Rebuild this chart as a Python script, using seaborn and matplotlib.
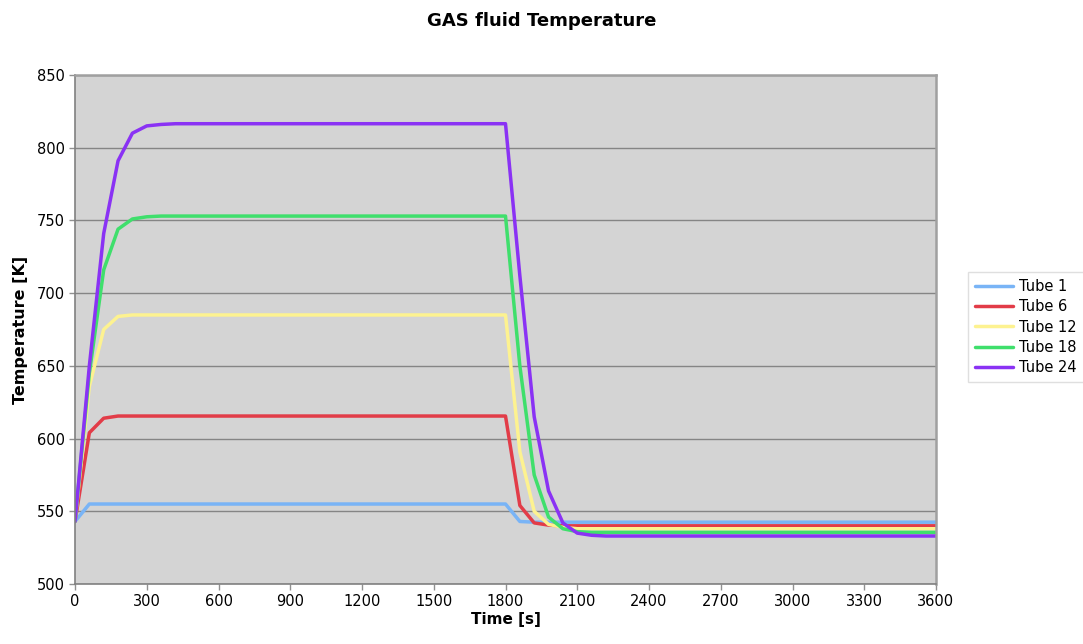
import pandas as pd
import matplotlib
matplotlib.use('Agg')
import matplotlib.pyplot as plt
import seaborn as sns

# breakpoints of each curve (straight segments in between)
time_s = [0, 60, 120, 180, 240, 300, 360, 420, 1800, 1860, 1920, 1980, 2040, 2100, 2160, 2220, 3600]
tube_1 = [543, 555, 555, 555, 555, 555, 555, 555, 555, 543, 542.5, 542.5, 542.5, 542.5, 542.5, 542.5, 542.5]
tube_6 = [543, 604, 614, 615.5, 615.5, 615.5, 615.5, 615.5, 615.5, 554, 542, 540.5, 540, 540, 540, 540, 540]
tube_12 = [543, 636, 675, 684, 685, 685, 685, 685, 685, 591, 550, 541, 539, 538, 538, 538, 538]
tube_18 = [543, 645, 716, 744, 751, 752.5, 753, 753, 753, 650, 575, 546, 538, 536, 535.5, 535.5, 535.5]
tube_24 = [543, 650, 741, 791, 810, 815, 816, 816.5, 816.5, 712, 615, 564, 542, 535, 533.5, 533, 533]

labels = ['Tube 1', 'Tube 6', 'Tube 12', 'Tube 18', 'Tube 24']
colors = ['#79b4f6', '#e23c48', '#fdf290', '#3fdf6c', '#8a32f4']
x_ticks = list(range(0, 3601, 300))
y_ticks = list(range(500, 851, 50))

frames = []
for name, vals in zip(labels, [tube_1, tube_6, tube_12, tube_18, tube_24]):
    frames.append(pd.DataFrame({'time': time_s, 'temp': vals, 'tube': name}))
df = pd.concat(frames, ignore_index=True)

sns.set_style('white')
plt.rcParams['font.family'] = ['DejaVu Sans']
plt.rcParams['text.color'] = 'black'
plt.rcParams['axes.labelcolor'] = 'black'

fig = plt.figure(figsize=(10.83, 6.44), dpi=100)
ax = fig.add_axes([75 / 1083, 1 - 584 / 644, (936 - 75) / 1083, (584 - 75) / 644])
ax.set_facecolor('#d4d4d4')

sns.lineplot(data=df, x='time', y='temp', hue='tube', palette=dict(zip(labels, colors)),
             linewidth=2.5, ax=ax, sort=False, estimator=None)

ax.set_xlim(0, 3600)
ax.set_ylim(500, 850)
ax.set_xticks(x_ticks)
ax.set_yticks(y_ticks)
ax.tick_params(axis='both', labelsize=10.5, length=4, width=1, color='#909090', direction='out',
               bottom=True, left=True, labelcolor='black')
ax.yaxis.grid(True, color='#858585', linewidth=1)
ax.xaxis.grid(False)
ax.set_axisbelow(True)
for side in ['left', 'bottom']:
    ax.spines[side].set_color('#808080')
    ax.spines[side].set_linewidth(1.2)
for side in ['top', 'right']:
    ax.spines[side].set_color('#a0a0a0')
    ax.spines[side].set_linewidth(1.8)

ax.set_xlabel('Time [s]', fontsize=11, fontweight='bold', labelpad=2)
ax.set_ylabel('Temperature [K]', fontsize=11.5, fontweight='bold', labelpad=6)
fig.text(0.5, 1 - 21 / 644, 'GAS fluid Temperature', ha='center', va='center',
         fontsize=13, fontweight='bold')

leg = ax.legend(loc='upper left', bbox_to_anchor=(968 / 1083, 1 - 272 / 644),
                bbox_transform=fig.transFigure, frameon=True, fancybox=False,
                fontsize=10.5, handlelength=2.6, borderpad=0.5, labelspacing=0.35,
                handletextpad=0.4, borderaxespad=0)
leg.get_frame().set_edgecolor('#d8d8d8')
leg.get_frame().set_linewidth(1)
for line in leg.get_lines():
    line.set_linewidth(2.5)

fig.savefig('out.png', dpi=100)
